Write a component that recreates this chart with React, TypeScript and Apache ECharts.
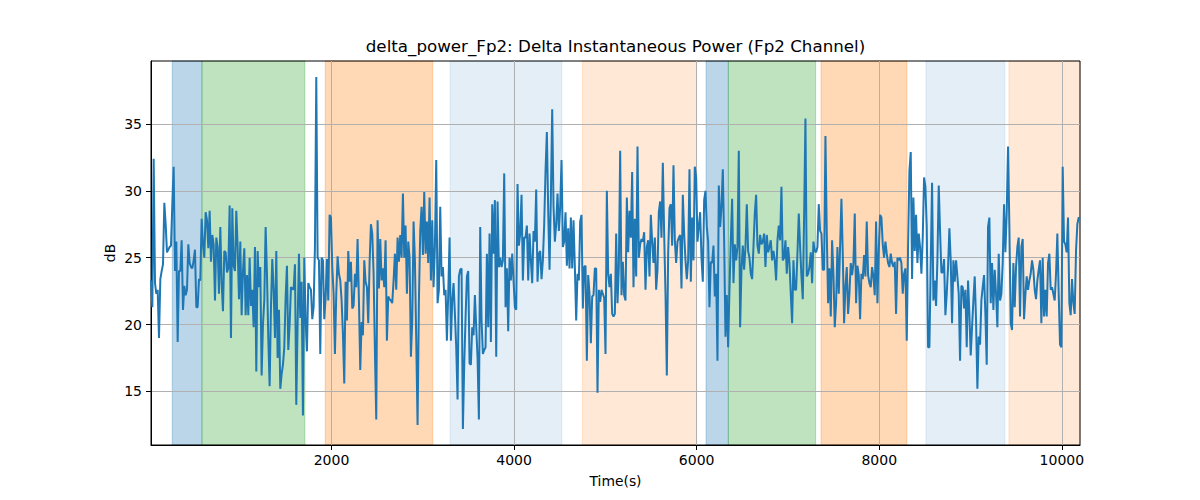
import React, { useEffect, useRef } from "react";
import * as echarts from "echarts";

// Sampling of the time axis (seconds)
const T0 = 23;
const STEP = 14.6;
const X_MIN = 23;
const X_MAX = 10199;
const Y_MIN = 11.0;
const Y_MAX = 39.7;

const X_TICKS = [2000, 4000, 6000, 8000, 10000];
const Y_TICKS = [15, 20, 25, 30, 35];

const TITLE = "delta_power_Fp2: Delta Instantaneous Power (Fp2 Channel)";
const X_LABEL = "Time(s)";
const Y_LABEL = "dB";

// delta power (dB) in consecutive chunks
const POWER_A = [
  23.3, 21.3, 32.4, 23.1, 22.3, 22.6, 19.0, 23.4, 24.0, 24.5,
  29.1, 27.5, 25.4, 25.6, 25.8, 25.9, 29.0, 31.8, 24.0, 26.2,
  18.7, 24.0, 24.0, 26.3, 21.1, 22.9, 22.2, 22.6, 26.0, 24.6,
  24.3, 24.2, 24.8, 25.6, 21.3, 21.3, 23.4, 23.3, 27.9, 26.0,
  25.0, 28.4, 27.8, 25.7, 28.5, 24.7, 26.7, 26.0, 21.8, 26.5,
  25.8, 22.3, 27.3, 23.1, 21.0, 25.5, 25.4, 23.9, 24.2, 28.9,
  19.0, 28.7, 24.4, 24.0, 28.5, 25.8, 21.9, 26.2, 20.7, 24.0,
  25.7, 20.7, 23.7, 20.7, 25.0, 21.4, 22.6, 19.8, 25.8, 16.5,
  25.5, 22.8, 24.3, 16.2, 20.0, 21.8, 27.3, 23.8, 19.0, 15.4,
  21.3, 24.9, 22.6, 19.0, 25.5, 17.5, 21.1, 15.2, 16.3, 17.0,
  18.3, 22.0, 24.4, 18.1,
];
const POWER_B = [
  20.0, 22.8, 22.7, 22.6, 24.5, 14.0, 20.1, 25.3, 20.5, 23.2,
  13.2, 25.0, 20.3, 18.0, 23.1, 22.8,
];
const POWER_C = [
  22.6, 20.4, 21.3, 25.8, 38.5, 25.0, 24.8, 17.8, 25.0, 24.8,
  20.4, 22.0, 24.9, 21.8, 28.2, 28.0, 24.3, 22.3, 17.8, 22.3,
  25.1, 23.8, 23.3, 21.8, 19.3, 15.6, 23.2, 20.3, 25.5, 23.2,
  24.7, 21.2, 21.4, 23.8, 22.8, 26.4, 21.8, 16.6, 20.2, 19.2,
  24.8, 23.2, 22.8, 20.1, 24.6, 27.5, 26.8, 23.8, 18.0, 12.9,
  27.8, 22.7, 26.4, 23.3, 24.2, 22.8, 26.3, 18.8, 22.1, 21.9,
  21.8, 21.6, 23.3, 25.3, 22.6, 26.5, 24.7, 26.7, 25.0, 29.8,
  25.0, 27.4, 22.3, 26.2, 25.0, 17.6, 20.3, 27.7, 24.8, 18.8,
  12.5, 21.8, 27.0, 28.8, 25.2, 29.9, 25.3, 27.7, 24.6, 29.5,
  23.3, 27.8, 22.8, 25.8, 32.3, 21.6, 22.6, 28.8, 23.6, 24.3,
  22.2, 22.6, 18.8, 22.3, 26.5, 18.8, 21.8, 23.1, 20.8, 18.3,
  14.4, 23.6,
];
const POWER_D = [
  24.1, 24.2, 12.2, 17.0, 20.5, 23.6, 24.0, 17.1, 17.0, 19.8,
  19.2, 22.2, 19.8, 17.5, 12.9, 27.3, 20.3, 17.8, 18.1, 18.3,
  25.3, 19.8, 26.8, 18.7, 29.0, 25.3, 29.3, 17.6, 29.2, 24.3,
  25.0, 24.3, 24.8, 31.3, 21.3, 24.2, 19.5, 25.0, 23.3, 25.3,
  23.3, 21.3, 21.1, 30.5, 25.9, 26.8, 29.7, 23.3, 26.5, 26.5,
  27.4, 23.3, 26.8, 24.8, 23.1, 27.0, 26.2, 30.1, 23.2, 25.3,
  25.5, 23.4, 24.8, 27.5, 31.5, 34.4, 28.5, 24.1, 29.5, 36.1,
  28.8, 26.2, 27.5, 29.8, 27.0, 28.8, 32.3, 25.8, 26.2, 28.4,
  24.4, 27.2, 24.2, 28.0, 24.2, 27.8, 24.3, 20.3, 23.8, 23.3,
  27.7, 28.2, 21.2, 24.3, 24.4, 17.3, 23.7, 22.3, 18.6, 22.1,
  22.2, 24.2, 24.2, 14.9, 22.6, 21.7, 22.6, 22.3, 22.0, 17.8,
  30.0, 23.8, 22.8,
];
const POWER_E = [
  23.8, 20.8, 20.6, 20.8, 26.8, 21.6, 24.3, 33.0, 22.2, 24.7,
  22.2, 21.8, 29.5, 25.4, 28.5, 26.5, 31.4, 22.8, 27.9, 23.6,
  33.3, 25.0, 26.0, 26.4, 26.2, 26.9, 22.6, 25.8, 26.3, 23.6,
  28.2, 26.2, 24.6, 26.5, 22.6, 24.1, 28.4, 29.2, 26.5, 32.1,
  26.8, 22.3, 16.2, 25.3, 28.7, 29.0, 25.9, 31.9, 26.3, 24.6,
  26.2, 26.5, 26.7, 22.7, 29.7, 26.8, 24.8, 23.4, 24.8, 31.6,
  23.2, 28.0, 24.8, 31.8, 31.0, 26.2, 27.3, 28.4, 25.0, 23.2,
  29.3, 30.0, 27.3, 26.2, 21.3, 24.7, 24.6, 25.9, 22.1, 23.8,
  17.3, 30.4, 27.3, 28.8, 31.6, 26.3, 19.1, 22.2, 18.3, 22.6,
  26.3, 29.4, 23.1, 26.0, 24.8, 25.8, 33.0, 19.8, 24.1, 25.9,
  24.1, 25.8, 29.0, 25.5, 25.0, 23.8, 23.4, 25.8, 28.3, 29.7,
  25.9, 25.3,
];
const POWER_F = [
  26.7, 26.0, 26.2, 26.8, 24.3, 26.7, 25.4, 25.8, 26.3, 24.8,
  25.5, 24.8, 23.3, 26.3, 27.4, 26.3, 30.3, 24.8, 25.0, 26.3,
  23.8, 25.8, 24.6, 22.3, 20.1, 24.8, 22.6, 22.6, 25.3, 28.3,
  25.8, 23.6, 21.9, 28.0, 35.4, 23.6, 23.8, 24.3, 25.4, 23.1,
  26.2, 25.5, 25.4, 25.8, 29.0, 27.0, 26.8, 24.1, 24.1, 34.1,
  26.8, 21.6, 24.2, 20.6, 26.3, 23.8, 19.8, 21.6, 25.8, 22.3,
  25.8, 29.4, 25.3, 20.1, 22.8, 24.3, 20.8, 22.3, 24.6, 23.7,
  24.6, 28.3, 21.6, 24.4, 23.7, 20.4, 23.8, 23.4, 25.2, 23.6,
  27.7, 23.7, 23.1, 22.8, 24.3, 23.6, 22.2, 27.7, 21.6, 25.5,
  28.2, 28.0, 26.0, 25.0, 26.2, 25.3, 24.6, 24.3, 25.3, 24.6,
  24.3, 24.7, 20.8, 25.0, 24.8, 25.0, 24.6, 22.3, 23.8, 24.2,
  18.8, 25.8, 31.5,
];
const POWER_G = [
  32.9, 23.4, 29.5, 25.5, 28.2, 24.6, 26.8, 25.8, 23.8, 26.5,
  31.0, 30.3, 27.3, 18.3, 18.3, 24.6, 30.6, 21.8, 23.3, 21.4,
  24.8, 30.4, 27.0, 23.9, 23.9, 24.9, 20.7, 22.3, 24.3, 27.2,
  24.8, 20.1, 24.8, 23.2, 24.8, 23.6, 22.3, 17.3, 22.9, 22.8,
  21.2, 22.6, 18.3, 23.3, 20.8, 17.7, 19.8, 21.8, 23.6, 20.3,
  15.2, 19.1, 18.5, 21.8, 22.8, 23.7, 20.8, 17.0, 27.3, 28.0,
  21.6, 24.6, 21.1, 24.1, 22.3, 19.8, 25.3, 21.8, 22.3, 24.6,
  29.0, 25.4, 28.3, 33.3, 27.3, 20.1, 19.6, 24.6, 21.3, 24.3,
  25.8, 26.5, 20.6, 25.8, 26.4, 20.4, 22.2, 23.6, 22.6, 23.3,
  23.8, 24.8, 24.1, 22.6, 21.9, 23.3, 24.1, 24.8, 20.1, 25.0,
  20.6, 22.6, 20.6, 24.6, 25.3, 22.6, 22.8, 22.3, 21.8, 23.8,
  26.8, 22.3, 18.5, 18.3, 31.8, 26.2, 26.0, 25.4, 28.0, 21.6,
  20.7, 23.4, 21.6, 20.8, 25.5, 27.5, 28.0, 27.9,
];

// shaded state intervals (seconds)
const SPAN_START = [256, 581, 1931, 3300, 4748, 6103, 6347, 7362, 8511, 9420];
const SPAN_END = [581, 1709, 3110, 4523, 6001, 6347, 7303, 8303, 9376, 10199];
const SPAN_KIND = ["blue", "green", "orange", "paleBlue", "paleOrange", "blue", "green", "orange", "paleBlue", "paleOrange"];

const SPAN_COLORS: Record<string, string> = {
  blue: "rgba(31,119,180,0.3)",
  green: "rgba(44,160,44,0.3)",
  orange: "rgba(255,127,14,0.3)",
  paleBlue: "rgba(31,119,180,0.12)",
  paleOrange: "rgba(255,127,14,0.17)",
};

const FONT = '"DejaVu Sans", "Liberation Sans", sans-serif';

export default function App() {
  const ref = useRef<HTMLDivElement>(null);

  useEffect(() => {
    if (!ref.current) return;
    const chart = echarts.init(ref.current, null, { renderer: "svg" });
    const values = [...POWER_A, ...POWER_B, ...POWER_C, ...POWER_D, ...POWER_E, ...POWER_F, ...POWER_G];
    const data = values.map((v, i) => [T0 + i * STEP, v]);

    const areas = SPAN_START.map((s, i) => {
      const c = SPAN_COLORS[SPAN_KIND[i]];
      return [
        { xAxis: s, itemStyle: { color: c, borderColor: c, borderWidth: 1 } },
        { xAxis: SPAN_END[i] },
      ];
    });

    const gridLeft = 151;
    const gridRight = 120;
    const gridTop = 61;
    const gridBottom = 55;
    const cx = gridLeft + (1200 - gridLeft - gridRight) / 2;
    const cy = gridTop + (500 - gridTop - gridBottom) / 2;

    chart.setOption({
      animation: false,
      backgroundColor: "#ffffff",
      grid: {
        left: gridLeft,
        right: gridRight,
        top: gridTop,
        bottom: gridBottom,
        show: true,
        borderColor: "#000",
        borderWidth: 1,
        backgroundColor: "transparent",
        z: 2,
      },
      xAxis: {
        type: "value",
        min: X_MIN,
        max: X_MAX,
        z: 2,
        axisLine: { show: true, lineStyle: { color: "#000", width: 1 } },
        axisTick: { show: true, customValues: X_TICKS, length: 5, lineStyle: { color: "#000", width: 1 } },
        axisLabel: {
          customValues: X_TICKS,
          color: "#000",
          fontSize: 14,
          fontFamily: FONT,
          margin: 8,
          formatter: (v: number) => String(v),
        },
        splitLine: { show: true, lineStyle: { color: "#b0b0b0", width: 1 } },
      },
      yAxis: {
        type: "value",
        min: Y_MIN,
        max: Y_MAX,
        z: 2,
        axisLine: { show: true, lineStyle: { color: "#000", width: 1 } },
        axisTick: { show: true, customValues: Y_TICKS, length: 5, lineStyle: { color: "#000", width: 1 } },
        axisLabel: {
          customValues: Y_TICKS,
          color: "#000",
          fontSize: 14,
          fontFamily: FONT,
          margin: 9,
          formatter: (v: number) => String(v),
        },
        splitLine: { show: true, lineStyle: { color: "#b0b0b0", width: 1 } },
      },
      graphic: [
        {
          type: "text",
          x: cx,
          y: 46,
          style: { text: TITLE, align: "center", verticalAlign: "middle", font: `16.7px ${FONT}`, fill: "#000" },
        },
        {
          type: "text",
          x: cx,
          y: 481,
          style: { text: X_LABEL, align: "center", verticalAlign: "middle", font: `13.9px ${FONT}`, fill: "#000" },
        },
        {
          type: "text",
          x: 110,
          y: cy,
          rotation: Math.PI / 2,
          style: { text: Y_LABEL, align: "center", verticalAlign: "middle", font: `13.9px ${FONT}`, fill: "#000" },
        },
      ],
      series: [
        {
          name: "spans",
          type: "line",
          data: [],
          z: 1,
          silent: true,
          markArea: { silent: true, data: areas },
        },
        {
          name: "delta_power_Fp2",
          type: "line",
          data,
          z: 3,
          showSymbol: false,
          symbol: "none",
          lineStyle: { color: "#1f77b4", width: 2 },
          itemStyle: { color: "#1f77b4" },
        },
      ],
    });

    return () => chart.dispose();
  }, []);

  return (
    <div
      ref={ref}
      style={{ position: "fixed", left: 0, top: 0, width: 1200, height: 500, background: "#fff" }}
    />
  );
}
